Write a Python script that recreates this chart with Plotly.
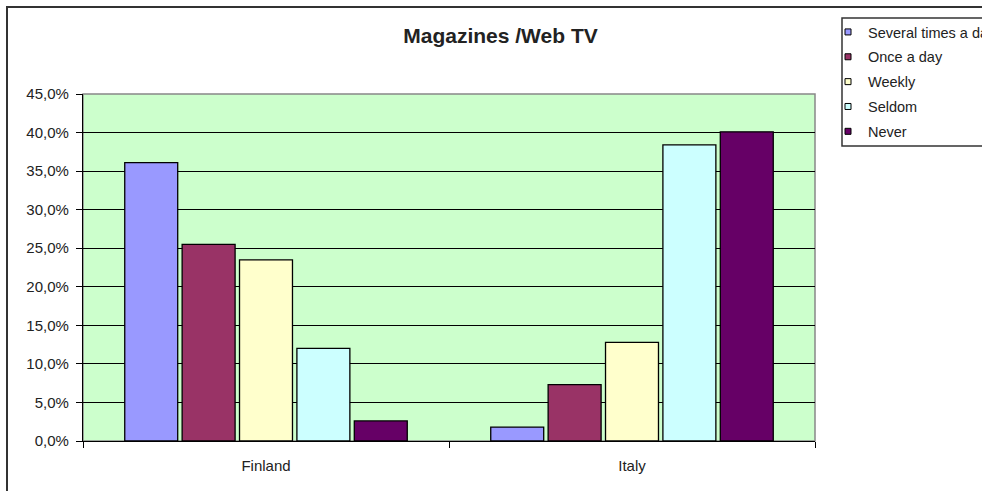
import plotly.graph_objects as go

# Survey: how often magazines / Web TV are used, share of respondents (%)
countries = ["Finland", "Italy"]
series_names = ["Several times a day", "Once a day", "Weekly", "Seldom", "Never"]
several_times_a_day = [36.1, 1.8]
once_a_day = [25.5, 7.3]
weekly = [23.5, 12.8]
seldom = [12.0, 38.4]
never = [2.6, 40.1]
series_values = [several_times_a_day, once_a_day, weekly, seldom, never]
series_colors = ["#9999FF", "#993366", "#FFFFCC", "#CCFFFF", "#660066"]

W, H = 982, 491
ML, MR, MT, MB = 83, 167, 94, 50
PW, PH = W - ML - MR, H - MT - MB


def px_x(px):
    return (px - ML) / PW


def px_y(py):
    return (H - MB - py) / PH


fig = go.Figure()

for name, vals, col in zip(series_names, series_values, series_colors):
    fig.add_trace(go.Bar(
        x=countries, y=vals, name=name,
        marker=dict(color=col, line=dict(color="#000000", width=1.3)),
        showlegend=False,
    ))

# Legend entries as small outlined squares
for i, (name, col) in enumerate(zip(series_names, series_colors)):
    fig.add_trace(go.Scatter(
        x=[None], y=[None], mode="markers", name=name,
        legendgroup=f"g{i}",
        marker=dict(symbol="square", size=6, color=col,
                    line=dict(color="#000000", width=1)),
    ))

font_family = "Liberation Sans, Arial, sans-serif"
text_color = "#222222"

shapes = [
    # outer chart frame
    dict(type="rect", xref="paper", yref="paper",
         x0=px_x(7), x1=px_x(1000), y0=px_y(510), y1=px_y(7),
         line=dict(color="#333333", width=2), fillcolor="rgba(0,0,0,0)",
         layer="below"),
    # plot-area border
    dict(type="rect", xref="paper", yref="paper",
         x0=0, x1=1, y0=0, y1=1,
         line=dict(color="#888888", width=1.5), fillcolor="rgba(0,0,0,0)",
         layer="below"),
    # legend box
    dict(type="rect", xref="paper", yref="paper",
         x0=px_x(842), x1=px_x(1000), y0=px_y(146), y1=px_y(18),
         line=dict(color="#333333", width=1.5), fillcolor="#FFFFFF",
         layer="below"),
]

fig.update_layout(
    width=W, height=H,
    margin=dict(l=ML, r=MR, t=MT, b=MB, autoexpand=False),
    paper_bgcolor="#FFFFFF",
    plot_bgcolor="#CCFFCC",
    separators=",.",
    barmode="group",
    bargap=0.216,
    bargroupgap=0.077,
    font=dict(family=font_family, size=15, color=text_color),
    title=dict(text="<b>Magazines /Web TV</b>", x=px_x(500.5), xref="paper",
               xanchor="center", y=1 - 36 / H, yref="container",
               yanchor="middle",
               font=dict(family=font_family, size=21, color=text_color)),
    xaxis=dict(
        type="category", showgrid=False, showline=True, linecolor="#000000",
        linewidth=1.3, ticks="outside", tickson="boundaries", ticklen=6,
        tickcolor="#000000", tickwidth=1.3, zeroline=False,
        tickfont=dict(size=15, color=text_color), ticklabelstandoff=11,
    ),
    yaxis=dict(
        range=[0, 45], dtick=5, tick0=0, tickformat=".1f", ticksuffix="%",
        showgrid=True, gridcolor="#000000", gridwidth=1.3,
        showline=True, linecolor="#000000", linewidth=1.3,
        ticks="outside", ticklen=6, tickcolor="#000000", tickwidth=1.3,
        zeroline=False, tickfont=dict(size=15, color=text_color),
        ticklabelstandoff=4,
    ),
    legend=dict(
        x=px_x(828), xanchor="left", y=px_y(16), yanchor="top",
        xref="paper", yref="paper",
        bgcolor="rgba(0,0,0,0)", borderwidth=0,
        font=dict(family=font_family, size=14.5, color=text_color),
        tracegroupgap=3, itemwidth=30,
    ),
    shapes=shapes,
)

fig.write_html("out.html")
